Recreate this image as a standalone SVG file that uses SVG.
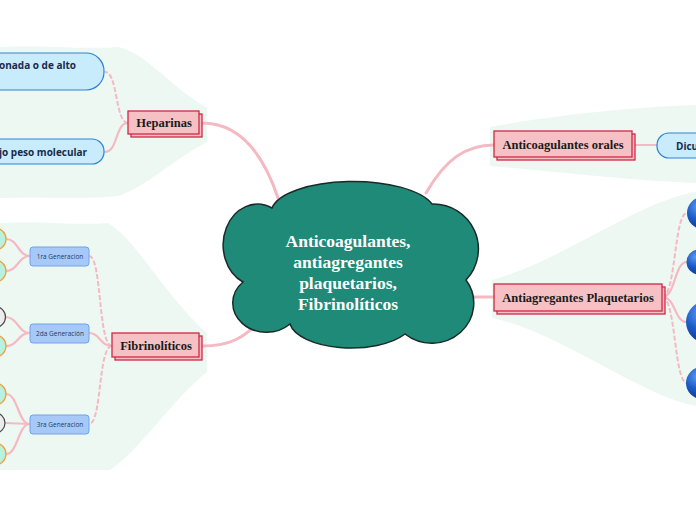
<svg xmlns="http://www.w3.org/2000/svg" width="696" height="520" viewBox="0 0 696 520">
<defs>
<style>
.bg{fill:#eef8f2;stroke:none}
.main{fill:none;stroke:#f5b9c3;stroke-width:3;stroke-linecap:round}
.sub{fill:none;stroke:#f5b9c3;stroke-width:2.2;stroke-linecap:round}
.dash{fill:none;stroke:#f5b9c3;stroke-width:2;stroke-dasharray:5 2}
.box{fill:#f5c1c5;stroke:#cf2845;stroke-width:1.3}
.lbl{font-family:"Liberation Serif",serif;font-weight:bold;font-size:12.5px;fill:#1a1a1a;text-anchor:middle}
.bn{fill:#c8ecfc;stroke:#2e82d2;stroke-width:1.2}
.bt{font-family:"Open Sans","Liberation Sans",sans-serif;font-weight:bold;font-size:10px;fill:#1a2a4a}
.gen{fill:#a6c9f8;stroke:#6fa2ee;stroke-width:1}
.gt{font-family:"Open Sans","Liberation Sans",sans-serif;font-size:6.5px;fill:#2a3a5a;text-anchor:middle}
.tc{fill:#b9f1e0;stroke:#f2a13a;stroke-width:1.3}
.gc{fill:#ececec;stroke:#4a4a4a;stroke-width:1.2}
.title{font-family:"Liberation Serif",serif;font-weight:bold;font-size:17.5px;fill:#ffffff;text-anchor:middle}
</style>
<radialGradient id="blue" cx="0.35" cy="0.3" r="0.75">
<stop offset="0" stop-color="#5a9af2"/>
<stop offset="0.5" stop-color="#1d5cc6"/>
<stop offset="1" stop-color="#0b3787"/>
</radialGradient>
</defs>

<g id="backgrounds">
<path class="bg" d="M0,47 C40,44 80,50 118,47 C145,52 172,88 207,108 L207,142 C172,160 145,188 118,196 C80,200 40,196 0,198 Z"/>
<path class="bg" d="M0,223 C40,220 75,226 108,223 C135,238 168,300 207,333 L207,372 C172,400 140,450 110,470 L0,470 Z"/>
<path class="bg" d="M490,127 C540,118 610,108 696,105 L696,183 C620,180 560,172 490,166 Z"/>
<path class="bg" d="M492,280 C560,262 640,200 696,192 L696,406 C640,396 560,332 492,318 Z"/>
</g>

<g id="connectors">
<path class="main" d="M278,198 C262,150 238,123 202,123"/>
<path class="main" d="M262,318 C245,338 230,346 202,346"/>
<path class="main" d="M426,193 C445,160 465,145 494,145"/>
<path class="main" d="M470,297 L494,297"/>
<path class="sub" d="M635,145 L657,145"/>
<path class="dash" d="M128,123 C115,123 118,72 105,72"/>
<path class="sub" d="M128,123 C115,123 118,152 105,152"/>
<path class="dash" d="M112,346 C98,346 102,256 89,256"/>
<path class="sub" d="M112,346 C100,346 100,333 89,333"/>
<path class="dash" d="M112,346 C98,346 102,424 89,424"/>
<path class="sub" d="M30,256 C18,256 18,239 6,239"/>
<path class="sub" d="M30,256 C18,256 18,271 6,271"/>
<path class="sub" d="M30,333 C18,333 18,317 5,317"/>
<path class="sub" d="M30,333 C18,333 18,346 6,346"/>
<path class="sub" d="M30,424 C18,424 18,394 6,394"/>
<path class="sub" d="M30,424 L5,423"/>
<path class="sub" d="M30,424 C18,424 18,454 6,454"/>
<path class="dash" d="M662,297 C676,297 674,213 687,213"/>
<path class="sub" d="M662,297 C676,297 674,262 687,262"/>
<path class="sub" d="M662,297 C676,297 674,322 687,322"/>
<path class="dash" d="M662,297 C676,297 674,383 687,383"/>
</g>

<g id="center">
<path d="M272,208 A82,31 0 0 1 432,204 A45,45 0 0 1 466,280 A42,40 0 0 1 405,334 A62,28 0 0 1 290,324 A30,26 0 0 1 243,282 A32,38 0 0 1 272,208 Z" fill="#1e8a77" stroke="#1a2a28" stroke-width="1.5"/>
<text class="title" x="348" y="247">Anticoagulantes,</text>
<text class="title" x="348" y="268">antiagregantes</text>
<text class="title" x="348" y="289">plaquetarios,</text>
<text class="title" x="348" y="310">Fibrinolíticos</text>
</g>

<g id="heparinas">
<rect class="box" x="131" y="114" width="71" height="23"/>
<rect class="box" x="128" y="111" width="71" height="23"/>
<text class="lbl" x="164" y="127">Heparinas</text>
</g>
<g id="hep-alto">
<rect class="bn" x="-40" y="53" width="144" height="37" rx="18"/>
<text class="bt" x="-1" y="69">onada o de alto</text>
</g>
<g id="hep-bajo">
<rect class="bn" x="-40" y="139" width="144" height="25" rx="12"/>
<text class="bt" x="-1" y="156">jo peso molecular</text>
</g>

<g id="fibrinoliticos">
<rect class="box" x="115" y="336" width="87" height="24"/>
<rect class="box" x="112" y="333" width="87" height="24"/>
<text class="lbl" x="156" y="350">Fibrinolíticos</text>
</g>
<g id="gen1">
<rect class="gen" x="30" y="247" width="59" height="19" rx="3"/>
<text class="gt" x="60" y="259">1ra Generacion</text>
</g>
<g id="gen2">
<rect class="gen" x="30" y="324" width="59" height="19" rx="3"/>
<text class="gt" x="60" y="336">2da Generación</text>
</g>
<g id="gen3">
<rect class="gen" x="30" y="415" width="59" height="19" rx="3"/>
<text class="gt" x="60" y="427">3ra Generacion</text>
</g>
<g id="c1"><circle class="tc" cx="-5" cy="239" r="11"/></g>
<g id="c2"><circle class="tc" cx="-5" cy="271" r="11"/></g>
<g id="c3"><circle class="gc" cx="-5" cy="317" r="10.5"/></g>
<g id="c4"><circle class="tc" cx="-5" cy="346" r="11"/></g>
<g id="c5"><circle class="tc" cx="-5" cy="394" r="11"/></g>
<g id="c6"><circle class="gc" cx="-5" cy="423" r="10"/></g>
<g id="c7"><circle class="tc" cx="-5" cy="454" r="11"/></g>

<g id="anticoagulantes-orales">
<rect class="box" x="497" y="134" width="138" height="26"/>
<rect class="box" x="494" y="131" width="138" height="26"/>
<text class="lbl" x="563" y="148.5">Anticoagulantes orales</text>
</g>
<g id="dicu">
<rect class="bn" x="657" y="133" width="80" height="25" rx="12"/>
<text class="bt" x="676" y="149.5">Dicu</text>
</g>

<g id="antiagregantes">
<rect class="box" x="497" y="287" width="168" height="27"/>
<rect class="box" x="494" y="284" width="168" height="27"/>
<text class="lbl" x="578" y="301.5">Antiagregantes Plaquetarios</text>
</g>
<g id="b1"><circle cx="703" cy="213" r="16" fill="url(#blue)"/></g>
<g id="b2"><circle cx="699" cy="262" r="12.5" fill="url(#blue)"/></g>
<g id="b3"><circle cx="707" cy="322" r="21" fill="url(#blue)"/></g>
<g id="b4"><circle cx="702" cy="383" r="16" fill="url(#blue)"/></g>
</svg>
